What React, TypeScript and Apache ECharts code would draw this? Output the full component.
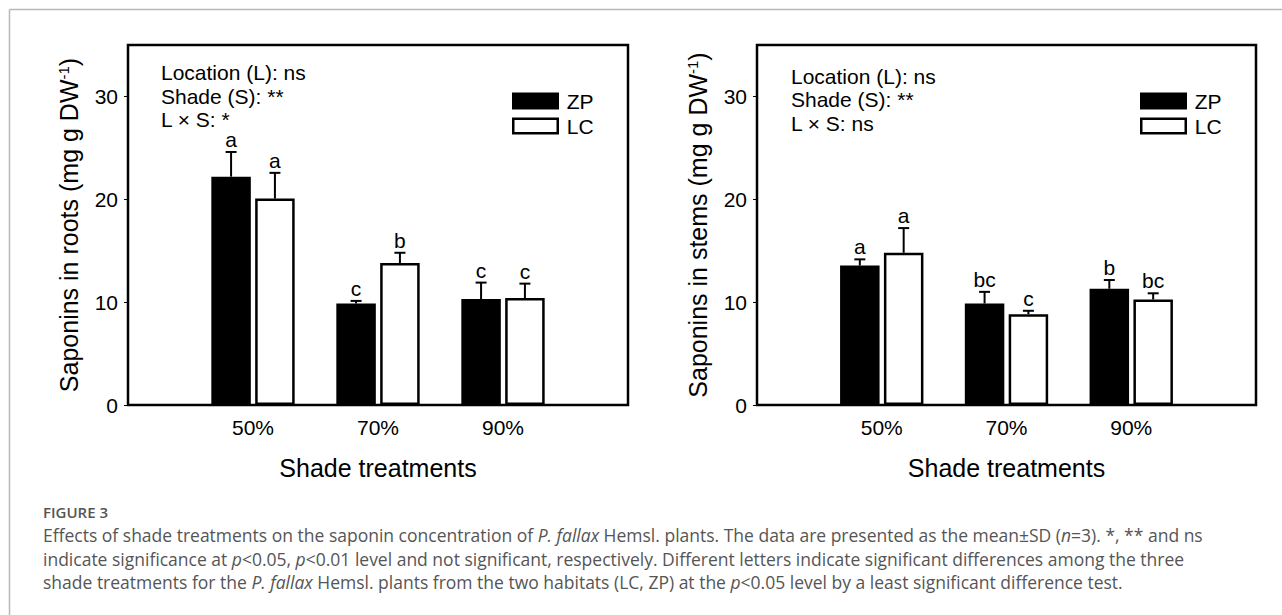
import React, { useEffect, useRef } from 'react';
import * as echarts from 'echarts';

// ---------- data ----------
const categories = ['50%', '70%', '90%'];
const yTickValues = [0, 10, 20, 30];

const rootsZP = [22.2, 9.87, 10.3];
const rootsZPsd = [2.4, 0.25, 1.6];
const rootsLC = [20.07, 13.8, 10.4];
const rootsLCsd = [2.5, 1.0, 1.4];
const rootsZPletters = ['a', 'c', 'c'];
const rootsLCletters = ['a', 'b', 'c'];

const stemsZP = [13.56, 9.87, 11.3];
const stemsZPsd = [0.6, 1.13, 0.85];
const stemsLC = [14.8, 8.83, 10.26];
const stemsLCsd = [2.4, 0.33, 0.6];
const stemsZPletters = ['a', 'bc', 'b'];
const stemsLCletters = ['a', 'c', 'bc'];

const leftNotes = ['Location (L): ns', 'Shade (S): **', 'L × S: *'];
const rightNotes = ['Location (L): ns', 'Shade (S): **', 'L × S: ns'];

const captionTitle = 'FIGURE 3';
const captionLines = [
  'Effects of shade treatments on the saponin concentration of {i|P. fallax} Hemsl. plants. The data are presented as the mean±SD ({i|n}=3). *, ** and ns',
  'indicate significance at {i|p}<0.05, {i|p}<0.01 level and not significant, respectively. Different letters indicate significant differences among the three',
  'shade treatments for the {i|P. fallax} Hemsl. plants from the two habitats (LC, ZP) at the {i|p}<0.05 level by a least significant difference test.',
];

// ---------- style ----------
const FONT = '"Liberation Sans", Arial, sans-serif';
const CAP_FONT = '"Open Sans", "Noto Sans", sans-serif';
const CAP_SIZE = 17.5;
const BAR_W = 39.5;
const BAR_GAP = 0.11;
const OFF = (BAR_W * (1 + BAR_GAP)) / 2;

function errorSeries(name: string, gi: number, means: number[], sds: number[], letters: string[], offset: number) {
  return {
    type: 'custom',
    name,
    xAxisIndex: gi,
    yAxisIndex: gi,
    z: 5,
    silent: true,
    data: means.map((m, i) => [i + 1, m, sds[i]]),
    renderItem: (params: any, api: any) => {
      const x = api.value(0);
      const m = api.value(1);
      const sd = api.value(2);
      const base = api.coord([x, m]);
      const top = api.coord([x, m + sd]);
      const cx = base[0] + offset;
      return {
        type: 'group',
        children: [
          { type: 'line', shape: { x1: cx, y1: base[1], x2: cx, y2: top[1] }, style: { stroke: '#000', lineWidth: 2 } },
          { type: 'line', shape: { x1: cx - 5.5, y1: top[1], x2: cx + 5.5, y2: top[1] }, style: { stroke: '#000', lineWidth: 2 } },
          {
            type: 'text',
            x: cx,
            y: top[1] - 2,
            style: { text: letters[params.dataIndex], fill: '#000', fontSize: 21, fontFamily: FONT, align: 'center', verticalAlign: 'bottom' },
          },
        ],
      };
    },
  };
}

function barSeries(name: string, gi: number, values: number[], filled: boolean) {
  return {
    type: 'bar',
    name,
    xAxisIndex: gi,
    yAxisIndex: gi,
    data: values.map((v, i) => [i + 1, v]),
    barWidth: BAR_W,
    barGap: `${BAR_GAP * 100}%`,
    itemStyle: { color: filled ? '#000' : '#fff', borderColor: '#000', borderWidth: 2.5 },
  };
}

function xAxisFor(gi: number) {
  return {
    type: 'value',
    gridIndex: gi,
    min: 0,
    max: 4,
    interval: 1,
    axisLine: { show: false },
    axisTick: { show: false },
    splitLine: { show: false },
    axisLabel: {
      formatter: (v: number) => categories[v - 1] ?? '',
      fontSize: 21,
      fontFamily: FONT,
      color: '#000',
      margin: 12,
    },
    name: 'Shade treatments',
    nameLocation: 'middle',
    nameGap: 50,
    nameTextStyle: { fontSize: 25, fontFamily: FONT, color: '#000' },
  };
}

function yAxisFor(gi: number, title: string) {
  return {
    type: 'value',
    gridIndex: gi,
    min: 0,
    max: 35,
    interval: 10,
    axisLine: { show: false },
    splitLine: { show: false },
    axisTick: { show: true, inside: false, length: 4, lineStyle: { color: '#000', width: 1 }, customValues: yTickValues },
    axisLabel: {
      customValues: yTickValues,
      formatter: (v: number) => (yTickValues.includes(v) ? String(v) : ''),
      fontSize: 21,
      fontFamily: FONT,
      color: '#000',
      margin: 10,
    },
    name: title,
    nameLocation: 'middle',
    nameGap: 47,
    nameTextStyle: {
      fontSize: 25,
      fontFamily: FONT,
      color: '#000',
      rich: { sup: { fontSize: 15, fontFamily: FONT, color: '#000', verticalAlign: 'top' } },
    },
  };
}

function legendAt(left: number, top: number) {
  return {
    orient: 'vertical',
    left,
    top,
    padding: 0,
    itemWidth: 44.5,
    itemHeight: 14.5,
    itemGap: 4,
    icon: 'rect',
    selectedMode: false,
    textStyle: { fontSize: 21, fontFamily: FONT, color: '#000', lineHeight: 20, padding: [0, 0, 0, 4] },
    data: [
      { name: 'ZP', itemStyle: { color: '#000', borderColor: '#000', borderWidth: 2.5 } },
      { name: 'LC', itemStyle: { color: '#fff', borderColor: '#000', borderWidth: 2.5 } },
    ],
  };
}

function notes(x: number, ys: number[], lines: string[]) {
  return lines.map((t, i) => ({
    type: 'text',
    x,
    y: ys[i],
    style: { text: t, fill: '#000', fontSize: 21, fontFamily: FONT, align: 'left', verticalAlign: 'middle' },
  }));
}

export default function App() {
  const ref = useRef<HTMLDivElement>(null);

  useEffect(() => {
    if (!ref.current) return;
    const chart = echarts.init(ref.current, null, { renderer: 'svg' });
    const capRich = { i: { fontStyle: 'italic', fontSize: CAP_SIZE, fontFamily: CAP_FONT, fill: '#555' } };
    chart.setOption({
      animation: false,
      backgroundColor: '#fff',
      grid: [
        { left: 128, top: 45, width: 500, height: 360, show: true, borderColor: '#000', borderWidth: 2.5 },
        { left: 757, top: 45, width: 499, height: 360, show: true, borderColor: '#000', borderWidth: 2.5 },
      ],
      xAxis: [xAxisFor(0), xAxisFor(1)],
      yAxis: [
        yAxisFor(0, 'Saponins in roots (mg g DW{sup|-1})'),
        yAxisFor(1, 'Saponins in stems (mg g DW{sup|-1})'),
      ],
      legend: [legendAt(512, 90.5), legendAt(1140, 90.5)],
      series: [
        barSeries('ZP', 0, rootsZP, true),
        barSeries('LC', 0, rootsLC, false),
        barSeries('ZP', 1, stemsZP, true),
        barSeries('LC', 1, stemsLC, false),
        errorSeries('ZP SD roots', 0, rootsZP, rootsZPsd, rootsZPletters, -OFF),
        errorSeries('LC SD roots', 0, rootsLC, rootsLCsd, rootsLCletters, OFF),
        errorSeries('ZP SD stems', 1, stemsZP, stemsZPsd, stemsZPletters, -OFF),
        errorSeries('LC SD stems', 1, stemsLC, stemsLCsd, stemsLCletters, OFF),
      ],
      graphic: [
        { type: 'line', shape: { x1: 9.5, y1: 9.5, x2: 1282, y2: 9.5 }, style: { stroke: '#b8b8b8', lineWidth: 1.5 } },
        { type: 'line', shape: { x1: 9.5, y1: 9.5, x2: 9.5, y2: 615 }, style: { stroke: '#b8b8b8', lineWidth: 1.5 } },
        ...notes(161, [72, 96, 119], leftNotes),
        ...notes(791, [76, 99, 123], rightNotes),
        {
          type: 'text',
          x: 43,
          y: 511.5,
          style: { text: captionTitle, fill: '#555', fontSize: 15, fontWeight: 600, fontFamily: CAP_FONT, align: 'left', verticalAlign: 'middle' },
        },
        ...captionLines.map((t, i) => ({
          type: 'text',
          x: 43,
          y: 535 + i * 23.5,
          style: { text: t, rich: capRich, fill: '#555', fontSize: CAP_SIZE, fontFamily: CAP_FONT, align: 'left', verticalAlign: 'middle' },
        })),
      ],
    });
    return () => chart.dispose();
  }, []);

  return <div ref={ref} style={{ position: 'absolute', left: 0, top: 0, width: 1282, height: 615 }} />;
}
